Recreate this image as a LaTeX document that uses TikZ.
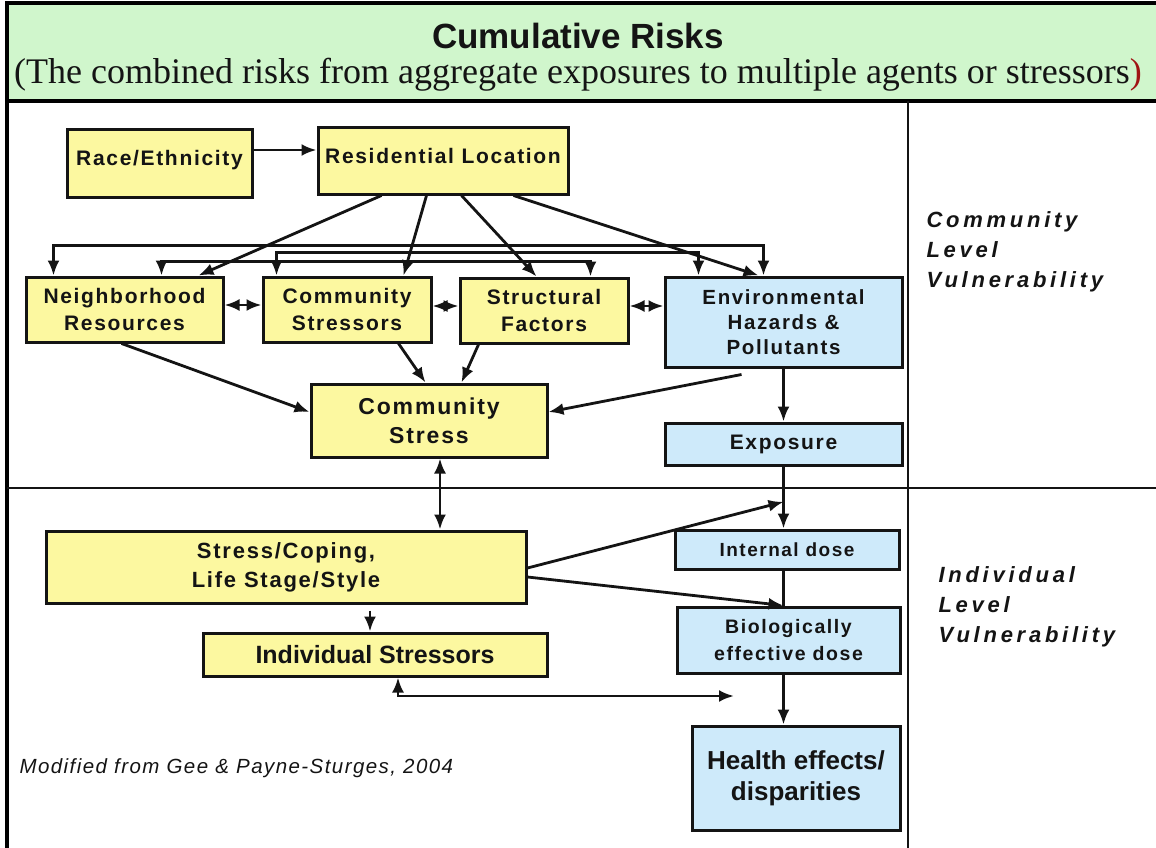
\documentclass[tikz,border=0pt]{standalone}
\usepackage{fontspec}
\setmainfont{Liberation Sans}
\newfontfamily\serifface{Liberation Serif}
\newfontfamily\boxface[LetterSpace=8]{Liberation Sans}
\newfontfamily\sideface[LetterSpace=17]{Liberation Sans}
\newfontfamily\noteface[LetterSpace=7]{Liberation Sans}
\usetikzlibrary{arrows.meta,calc}

\definecolor{hdrgreen}{RGB}{208,246,204}
\definecolor{boxyellow}{RGB}{252,248,160}
\definecolor{boxblue}{RGB}{206,234,250}
\definecolor{edge}{RGB}{20,20,20}
\definecolor{parenred}{RGB}{160,20,20}

\newcommand\fsz[2]{\fontsize{#1}{#2}\selectfont}

\tikzset{
  box/.style={draw=edge, line width=3pt, inner sep=0pt, align=center, text=edge},
  ybox/.style={box, fill=boxyellow},
  bbox/.style={box, fill=boxblue},
  lab/.style={font=\boxface\bfseries\fsz{21}{27}},
  conn/.style={line width=2.8pt, draw=edge},
  arr/.style={conn, -{Latex[length=15pt,width=12pt]}},
  dbl/.style={conn, {Latex[length=15pt,width=12pt]}-{Latex[length=15pt,width=12pt]}},
  rule/.style={draw=edge, line width=2.2pt},
  frame/.style={draw=black, line width=3.8pt},
}

\begin{document}
\begin{tikzpicture}[x=1pt, y=-1pt]
\useasboundingbox (0,0) rectangle (1156,848);

% header band and table rules
\fill[hdrgreen] (7,3) rectangle (1156,101);
\draw[frame] (1156,3) -- (7,3) -- (7,848);
\draw[frame] (7,101) -- (1156,101);
\draw[rule] (908,101) -- (908,848);
\draw[rule] (7,488) -- (1156,488);

% header text
\node[font=\bfseries\fsz{35}{38}, text=edge] (title) at (578,36) {Cumulative Risks};
\node[font=\serifface\fsz{36}{40}, text=edge] (sub) at (578,75)
  {(The combined risks from aggregate exposures to multiple agents or stressors\textcolor{parenred}{)}};

% community level boxes
\node[ybox, lab, minimum width=185pt, minimum height=67pt] (re) at (159.5,163.5)
  {\raisebox{11.5pt}{Race/Ethnicity}};
\node[ybox, lab, minimum width=250pt, minimum height=66pt] (rl) at (443,161)
  {\raisebox{11pt}{Residential Location}};
\node[ybox, lab, minimum width=197pt, minimum height=65pt] (nb) at (124.5,309.5)
  {Neighborhood\\Resources};
\node[ybox, lab, minimum width=168pt, minimum height=65pt] (cs) at (347,309.5)
  {Community\\Stressors};
\node[ybox, lab, minimum width=168pt, minimum height=65pt] (sf) at (544,310.5)
  {Structural\\Factors};
\node[bbox, lab, font=\boxface\bfseries\fsz{20.5}{25}, minimum width=237pt, minimum height=90pt] (env) at (783.5,322)
  {Environmental\\Hazards \&\\Pollutants};
\node[ybox, lab, font=\boxface\bfseries\fsz{23}{29}, minimum width=236pt, minimum height=73pt] (cst) at (429,420.5)
  {Community\\Stress};
\node[bbox, lab, minimum width=237pt, minimum height=42pt] (exp) at (783.5,444)
  {Exposure};

% individual level boxes
\node[ybox, lab, font=\boxface\bfseries\fsz{22}{29}, minimum width=480pt, minimum height=72pt] (sc) at (286,567)
  {Stress/Coping,\\Life Stage/Style};
\node[bbox, lab, font=\boxface\bfseries\fsz{19}{24}, minimum width=224pt, minimum height=39pt] (id) at (787,549.5)
  {Internal dose};
\node[bbox, lab, font=\boxface\bfseries\fsz{19.5}{27}, minimum width=223pt, minimum height=66pt] (bio) at (788.5,640)
  {Biologically\\effective dose};
\node[ybox, font=\bfseries\fsz{25}{28}, text=edge, minimum width=344pt, minimum height=43pt] (is) at (375,654.5)
  {Individual Stressors};
\node[bbox, font=\bfseries\fsz{26}{31}, minimum width=208pt, minimum height=104pt] (hl) at (796,778)
  {Health effects/\\disparities};

% side labels and source note
\node[font=\sideface\bfseries\itshape\fsz{22}{30}, text=edge, anchor=west, align=left] (cl) at (923,252)
  {Community\\Level\\Vulnerability};
\node[font=\sideface\bfseries\itshape\fsz{22}{30}, text=edge, anchor=west, align=left] (il) at (935,607)
  {Individual\\Level\\Vulnerability};
\node[font=\noteface\itshape\fsz{20.5}{24}, text=edge, anchor=west] (note) at (16,768)
  {Modified from Gee \& Payne-Sturges, 2004};

% connectors: top row
\draw[arr] ([yshift=13.5pt]re.east) -- ([yshift=11pt]rl.west);
\draw[arr] ([xshift=65pt]rl.south west) -- ([xshift=174pt]nb.north west);
\draw[arr] ([xshift=110pt]rl.south west) -- ([xshift=142pt]cs.north west);
\draw[arr] ([xshift=145pt]rl.south west) -- ([xshift=78pt]sf.north west);
\draw[arr] ([xshift=197pt]rl.south west) -- ([xshift=95pt]env.north west);

% connectors: rails linking the middle row
\draw[dbl] ([xshift=29pt]nb.north west) -- ++(0,-30) -| ([xshift=100pt]env.north west);
\draw[dbl] ([xshift=15pt]cs.north west) -- ++(0,-23) -| ([xshift=35pt]env.north west);
\draw[dbl] ([xshift=137pt]nb.north west) -- ++(0,-14) -| ([xshift=132pt]sf.north west);

% connectors: side by side
\draw[dbl] ([yshift=4.5pt]nb.east) -- ([yshift=4.5pt]nb.east -| cs.west);
\draw[dbl] ([yshift=3.5pt]cs.east) -- ([yshift=3.5pt]cs.east -| sf.west);
\draw[dbl] ([yshift=4.5pt]sf.east) -- ([yshift=4.5pt]sf.east -| env.west);

% connectors: into community stress
\draw[arr] ([xshift=97pt]nb.south west) -- ([yshift=8.5pt]cst.west);
\draw[arr] ([xshift=137pt]cs.south west) -- ([xshift=116pt]cst.north west);
\draw[arr] ([xshift=20pt]sf.south west) -- ([xshift=152pt]cst.north west);
\draw[arr] ([xshift=78pt,yshift=-6pt]env.south west) -- ([yshift=8.5pt]cst.east);
\draw[arr] (env.south) -- (exp.north);

% connectors: individual level
\draw[dbl] ([xshift=11pt]cst.south) -- ([xshift=11pt]cst.south |- sc.north);
\draw[arr] (exp.south) -- (exp.south |- id.north);
\coordinate (j1) at ($(exp.south)!0.57!(exp.south |- id.north)$);
\draw[arr] ([yshift=-1pt]sc.east) -- (j1);
\draw[conn] (exp.south |- id.south) -- (exp.south |- bio.north);
\draw[arr] ([yshift=-10pt]sc.east) -- (exp.south |- bio.north);
\draw[arr] (exp.south |- bio.south) -- (exp.south |- hl.north);
\draw[arr] ([xshift=-5pt,yshift=-6pt]sc.south -| is.north) -- ([xshift=-5pt]is.north);
\coordinate (ie) at (734,696);
\draw[dbl] ([xshift=23pt]is.south) |- (ie);
\end{tikzpicture}
\end{document}
